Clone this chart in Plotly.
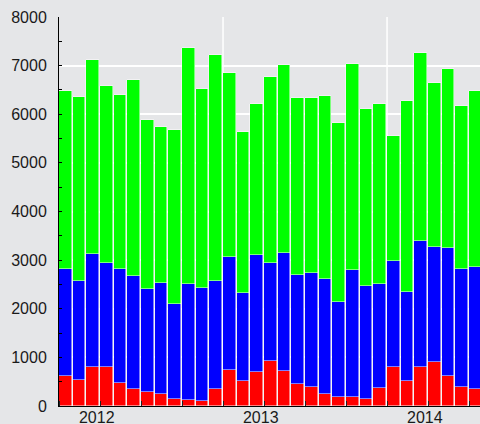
import plotly.graph_objects as go

months = ["2012-01","2012-02","2012-03","2012-04","2012-05","2012-06","2012-07","2012-08","2012-09","2012-10","2012-11","2012-12",
          "2013-01","2013-02","2013-03","2013-04","2013-05","2013-06","2013-07","2013-08","2013-09","2013-10","2013-11","2013-12",
          "2014-01","2014-02","2014-03","2014-04","2014-05","2014-06","2014-07"]
red = [625,540,810,800,480,350,290,245,145,130,110,350,
       735,515,705,925,720,455,385,245,180,180,145,370,
       810,515,800,910,625,385,350]
blue = [2200,2030,2320,2135,2330,2330,2115,2280,1945,2380,2310,2215,
        2335,1805,2395,2010,2420,2240,2350,2370,1960,2620,2325,2145,
        2175,1825,2595,2360,2625,2425,2510]
green = [3650,3780,3985,3645,3580,4030,3485,3210,3580,4845,4105,4645,
         3780,3310,3120,3830,3870,3640,3600,3765,3670,4225,3640,3695,
         2570,3935,3870,3375,3690,3370,3620]
year_labels = ["2012","2013","2014"]
y_ticks = [0,1000,2000,3000,4000,5000,6000,7000,8000]

x = list(range(len(months)))
W = 0.93
half = W / 2
bg = "#e5e6e8"
line = dict(color="rgba(255,255,255,0.7)", width=0.7)

fig = go.Figure()
for vals, col in [(red, "#ff0000"), (blue, "#0000ff"), (green, "#00ff00")]:
    fig.add_trace(go.Bar(x=x, y=vals, width=W, marker=dict(color=col, line=line), showlegend=False, hoverinfo="skip"))

jan_idx = [months.index(y + "-01") for y in year_labels]
label_pos = [i - half + 2.76 for i in jan_idx]

shapes = []
for i in jan_idx[1:]:
    shapes.append(dict(type="line", xref="x", yref="paper", x0=i - half, x1=i - half, y0=0, y1=1,
                       line=dict(color="white", width=1.5), layer="below"))

fig.update_layout(
    width=480, height=424,
    margin=dict(l=59, r=0, t=17, b=18, autoexpand=False),
    paper_bgcolor=bg, plot_bgcolor=bg,
    barmode="stack", bargap=0,
    font=dict(family="Liberation Sans, Arial, sans-serif", size=16, color="#1a1a1a"),
    shapes=shapes,
    xaxis=dict(range=[-half, len(months) - 0.665], tickvals=label_pos, ticktext=year_labels,
               ticks="", showgrid=False, zeroline=False, showline=True, linecolor="black", linewidth=1,
               automargin=False,
               minor=dict(tick0=-half, dtick=3, ticks="inside", ticklen=5, tickcolor="#222", showgrid=False),
               ticklabelstandoff=-3),
    yaxis=dict(range=[0, 8000], tickvals=y_ticks, ticks="inside", ticklen=3, tickcolor="black",
               showgrid=True, gridcolor="white", gridwidth=1.5, zeroline=False, automargin=False,
               showline=True, linecolor="black", linewidth=1,
               minor=dict(dtick=500, ticks="inside", ticklen=3, tickcolor="black", showgrid=False),
               ticklabelstandoff=8),
)

fig.write_html("out.html", config={"displayModeBar": False},
               post_script="document.body.style.margin='0';document.body.style.background='%s';" % bg)
